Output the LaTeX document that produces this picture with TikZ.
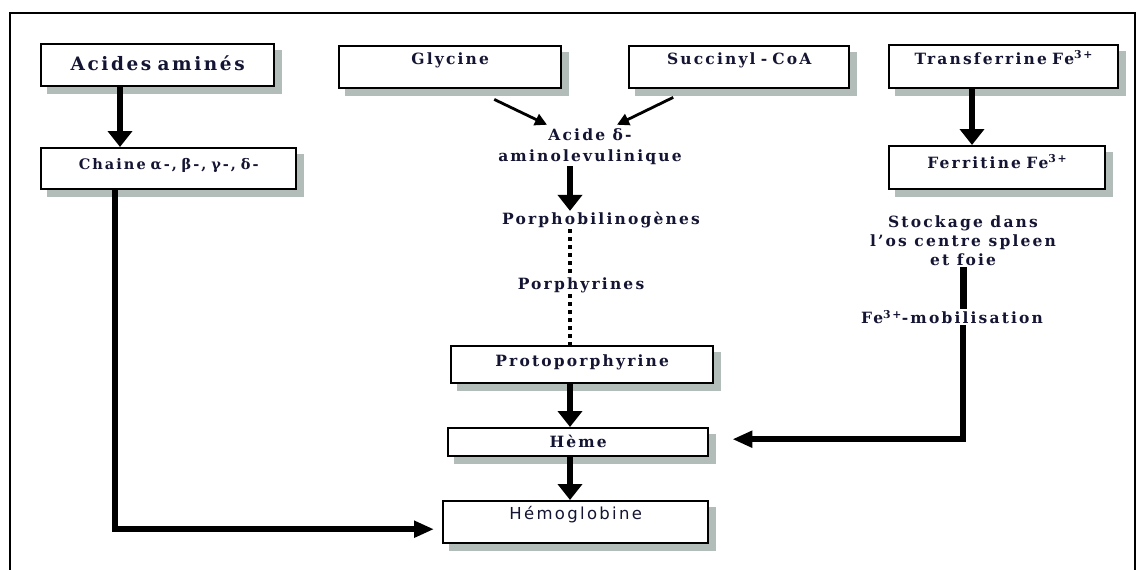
\documentclass[tikz,border=0pt]{standalone}
\usepackage{fontspec}
\usepackage{xcolor}
\setmainfont{DejaVu Serif}[LetterSpace=14]
\newfontfamily\sanslettre{DejaVu Sans}[LetterSpace=14]
\usetikzlibrary{arrows.meta, positioning, calc, backgrounds}

\definecolor{encre}{rgb}{0.08,0.08,0.2}
\definecolor{ombre}{rgb}{0.70,0.74,0.73}
\tikzstyle{boite} = [draw, line width = 2.4, fill = white, inner xsep = 0, inner ysep = 0, anchor = north west, align = center, font = \bfseries\fontsize{15.5}{18}\selectfont, text = encre]
\tikzstyle{etape} = [align = center, inner sep = 1, font = \bfseries\fontsize{15.5}{21}\selectfont, text = encre]
\tikzstyle{grosse} = [-{Triangle[width = 24pt, length = 16pt]}, line width = 6]
\tikzstyle{fine} = [-{Triangle[width = 12pt, length = 12pt]}, line width = 2.8]
\tikzstyle{coude} = [-{Triangle[width = 16pt, length = 20pt]}, line width = 5.5]
\tikzstyle{pointille} = [line width = 4.5, dash pattern = on 4pt off 4pt]

\begin{document}
\begin{tikzpicture}[x = 1pt, y = -1pt]
	\useasboundingbox (0, 0) rectangle (1140, 570);
	% Cadre
	\draw[line width = 2] (10, 570) -- (10, 13) -- (1135, 13) -- (1135, 570);
	% Axes des fleches
	\coordinate (axeg) at (120, 0);
	\coordinate (axeb) at (115, 0);
	\coordinate (axe) at (570, 0);
	\coordinate (axed) at (972, 0);
	\coordinate (axef) at (963, 0);
	% Colonne de gauche
	\node[boite, text width = 233pt, text height = 26pt, text depth = 16pt, font = \bfseries\fontsize{18.5}{20}\selectfont] (acides) at (40, 43) {Acides aminés};
	\node[boite, text width = 255pt, text height = 21pt, text depth = 20pt, font = \bfseries\fontsize{14.5}{16}\selectfont] (chaine) at (40, 147) {Chaine α-, β-, γ-, δ-};
	% Colonne du milieu
	\node[boite, text width = 222pt, text height = 18pt, text depth = 24pt] (glycine) at (338, 45) {Glycine};
	\node[boite, text width = 220pt, text height = 18pt, text depth = 24pt] (succinyl) at (628, 45) {Succinyl - CoA};
	\node[etape] (acide) at (590, 147) {Acide  δ-\\aminolevulinique};
	\node[etape] (porpho) at (601, 220) {Porphobilinogènes};
	\node[etape] (porphy) at (581, 285) {Porphyrines};
	\node[boite, text width = 262pt, text height = 20pt, text depth = 17pt] (proto) at (450, 345) {Protoporphyrine};
	\node[boite, text width = 260pt, text height = 19pt, text depth = 9pt] (heme) at (447, 427) {Hème};
	\node[boite, text width = 265pt, text height = 18pt, text depth = 24pt, font = \sanslettre\fontsize{16.5}{18}\selectfont] (hemo) at (442, 500) {Hémoglobine};
	% Colonne de droite
	\node[boite, text width = 229pt, text height = 19pt, text depth = 24pt] (transf) at (888, 44) {Transferrine Fe\textsuperscript{3+}};
	\node[boite, text width = 216pt, text height = 22pt, text depth = 21pt] (ferri) at (888, 145) {Ferritine Fe\textsuperscript{3+}};
	\node[etape, font = \bfseries\fontsize{15.5}{19}\selectfont] (stockage) at (963, 241) {Stockage dans\\l'os centre spleen\\et foie};
	\node[etape] (mobil) at (952, 317) {Fe\textsuperscript{3+}-mobilisation};
	% Ombres des boites
	\begin{scope}[on background layer]
		\foreach \b in {acides, chaine, glycine, succinyl, proto, heme, hemo, transf, ferri}
			\fill[ombre] ([shift = {(7pt, -7pt)}]\b.south west) rectangle ([shift = {(7pt, -7pt)}]\b.north east);
	\end{scope}
	% Fleches
	\draw[grosse] (acides.south -| axeg) -- (chaine.north -| axeg);
	\draw[coude, shorten > = 8pt] (chaine.south -| axeb) |- ([yshift = -7pt]hemo.west);
	\draw[fine] ([shift = {(44pt, -10pt)}]glycine.south) -- ([shift = {(-43pt, 3pt)}]acide.north);
	\draw[fine] ([shift = {(-66pt, -8pt)}]succinyl.south) -- ([shift = {(27pt, 3pt)}]acide.north);
	\draw[grosse] (acide.south -| axe) -- (porpho.north -| axe);
	\draw[pointille] (porpho.south -| axe) -- (porphy.north -| axe);
	\draw[pointille] (porphy.south -| axe) -- (proto.north -| axe);
	\draw[grosse] (proto.south -| axe) -- (heme.north -| axe);
	\draw[grosse] (heme.south -| axe) -- (hemo.north -| axe);
	\draw[grosse] (transf.south -| axed) -- (ferri.north -| axed);
	\draw[line width = 7] (stockage.south -| axef) -- (mobil.north -| axef);
	\draw[coude, shorten > = 23pt] (mobil.south -| axef) |- ([yshift = 3pt]heme.east);
\end{tikzpicture}
\end{document}
